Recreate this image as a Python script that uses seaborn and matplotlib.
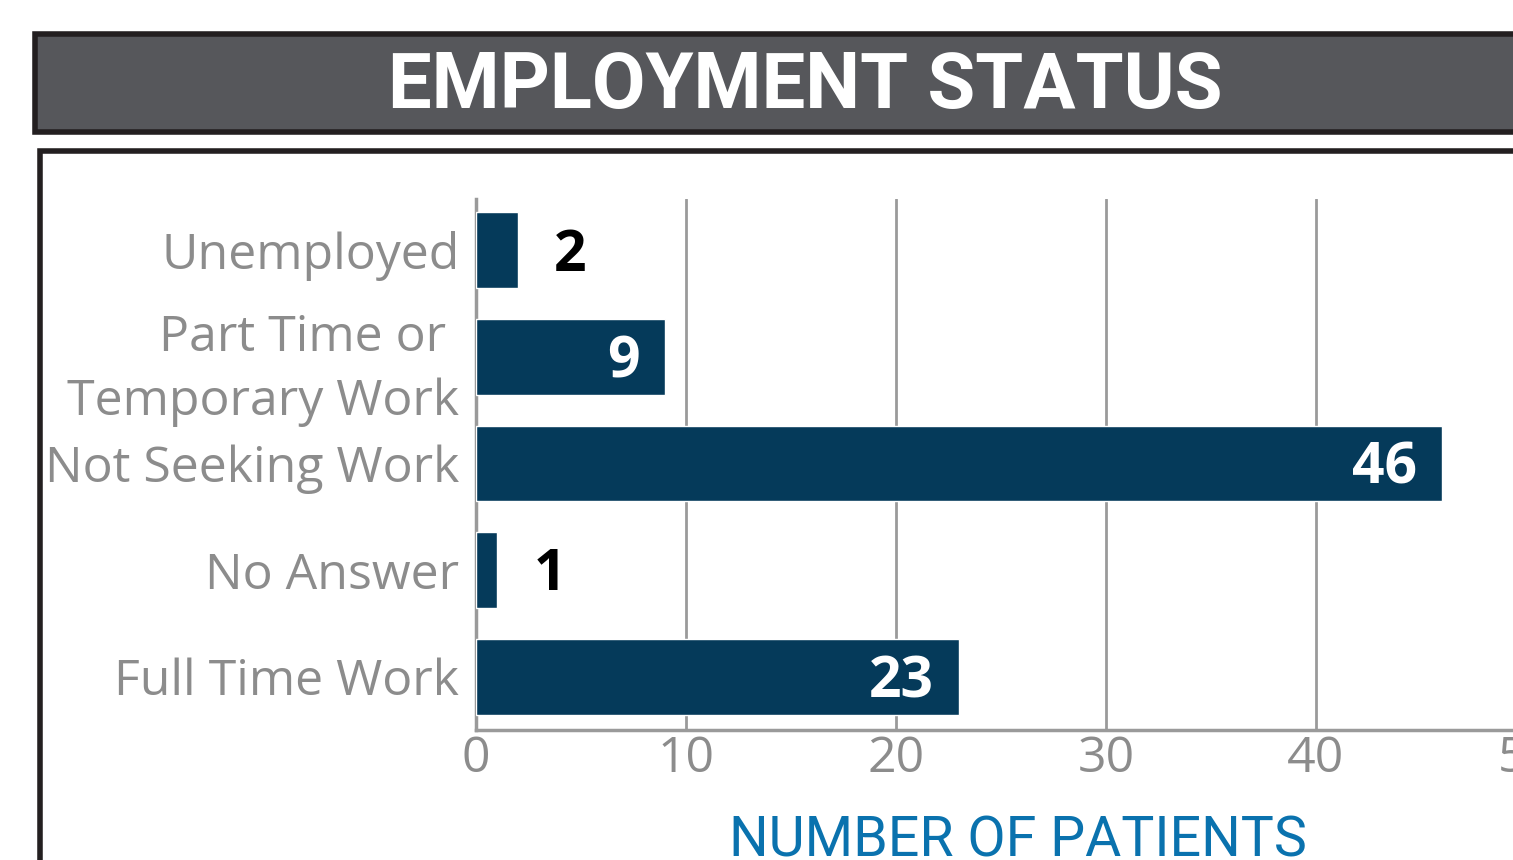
import matplotlib
matplotlib.use("Agg")
import matplotlib.pyplot as plt
import seaborn as sns
import pandas as pd
from matplotlib.patches import Rectangle

categories = ["Unemployed", "Part Time or \nTemporary Work", "Not Seeking Work", "No Answer", "Full Time Work"]
values = [2, 9, 46, 1, 23]
xticks = [0, 10, 20, 30, 40, 50]
title = "EMPLOYMENT STATUS"
xlabel = "NUMBER OF PATIENTS"

sns.set_style("white")
plt.rcParams['font.family'] = ['Open Sans', 'DejaVu Sans']

W, H = 1513, 860
fig = plt.figure(figsize=(W / 100, H / 100), dpi=100)

def px(x0, y0, x1, y1):
    return [x0 / W, 1 - y1 / H, (x1 - x0) / W, (y1 - y0) / H]

# title banner
fig.patches.append(Rectangle((35 / W, 1 - 132 / H), (W + 50 - 35) / W, (132 - 34) / H,
                             transform=fig.transFigure, facecolor="#56575b",
                             edgecolor="#231f20", linewidth=4, zorder=0))
fig.text(805 / W, 1 - 87 / H, title, color="white", fontsize=56, fontweight="bold",
         family=["Roboto", "DejaVu Sans"], ha="center", va="center")

# outer frame for chart
fig.patches.append(Rectangle((39.5 / W, -0.2), (W + 50) / W, (1 - 150.5 / H) + 0.2,
                             transform=fig.transFigure, facecolor="none",
                             edgecolor="#231f20", linewidth=4, zorder=0))

ax = fig.add_axes(px(476, 199, 1526, 730))
df = pd.DataFrame({"cat": categories, "val": values})
sns.barplot(data=df, x="val", y="cat", orient="h", color="#053a5a", saturation=1,
            width=0.71, ax=ax, zorder=3)
ax.set_xlim(0, 50)
ax.set_ylim(4.5, -0.48)
ax.set_xticks(xticks)
ax.set_xticklabels([str(t) for t in xticks])
ax.grid(axis="x", color="#9a9a9a", linewidth=2, zorder=0)
ax.set_axisbelow(True)
for s in ["top", "right"]:
    ax.spines[s].set_visible(False)
for s in ["left", "bottom"]:
    ax.spines[s].set_color("#9a9a9a")
    ax.spines[s].set_linewidth(2.5)
ax.tick_params(axis="x", length=0, labelsize=36, labelcolor="#8c8c8c", pad=3)
ax.tick_params(axis="y", length=0, labelsize=36, labelcolor="#8c8c8c", pad=12)
for lbl in ax.get_yticklabels():
    lbl.set_linespacing(1.38)
ax.set_ylabel("")
ax.set_xlabel(xlabel, fontsize=40, color="#0a72ae", family=["Roboto", "DejaVu Sans"])
ax.xaxis.set_label_coords((1018 - 476) / 1050, -(841 - 730) / 531, transform=ax.transAxes)
ax.xaxis.label.set_va("center")

for i, v in enumerate(values):
    if v >= 5:
        ax.text(v - 1.2, i + 0.05, str(v), color="white", fontsize=41, fontweight="bold",
                ha="right", va="center", zorder=5)
    else:
        ax.text(v + 2.5, i + 0.05, str(v), color="black", fontsize=41, fontweight="bold",
                ha="center", va="center", zorder=5)

fig.savefig("out.png", dpi=100)
